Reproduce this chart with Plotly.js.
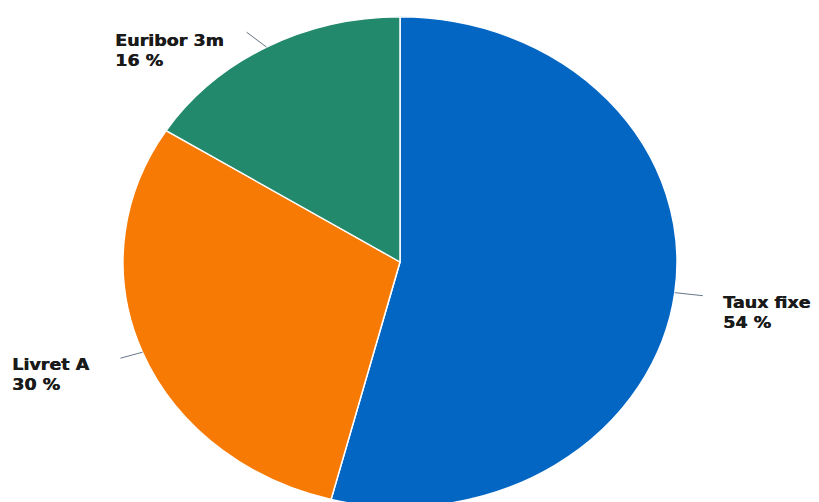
<!DOCTYPE html>
<html><head><meta charset="utf-8">
<script src="https://cdn.plot.ly/plotly-3.0.1.min.js"></script>
<style>
html,body{margin:0;padding:0;background:#fff;overflow:hidden}
#wrap{width:819px;height:502px;overflow:hidden;position:relative;background:#fff}
#chart{width:819px;height:600px;transform:scaleY(0.885);transform-origin:0 0}
</style></head>
<body><div id="wrap"><div id="chart"></div></div>
<script>
// ---- data ----
const labels = ['Taux fixe', 'Livret A', 'Euribor 3m'];
const values = [54, 30, 16];
const percentText = ['54 %', '30 %', '16 %'];
const colors = ['#0366c3', '#f77a05', '#23896c'];

// ---- label placement (pixels, relative to the slice's outer mid-point, image space) ----
const S = 0.885; // vertical squash of the page
const place = [
  {lx: 28,  ly: 3,   tx: 47,  ty: 5,   side: 'left'},
  {lx: -22, ly: 6,   tx: -51, ty: 7,   side: 'right'},
  {lx: -20, ly: -15, tx: -42, ty: -12, side: 'right'}
];

const total = values.reduce((a, b) => a + b, 0);
let cum = 0;
const annotations = [], shapes = [];
values.forEach((v, i) => {
  const mid = (cum + v / 2) / total * 2 * Math.PI;
  cum += v;
  const hx = 0.5 + 0.5 * Math.sin(mid);
  const hy = 0.5 + 0.5 * Math.cos(mid);
  const p = place[i];
  shapes.push({
    type: 'line', xref: 'paper', yref: 'paper',
    xsizemode: 'pixel', ysizemode: 'pixel',
    xanchor: hx, yanchor: hy,
    x0: 0, x1: p.lx, y0: 0, y1: -p.ly / S,
    line: {color: '#5d6e80', width: 1}
  });
  annotations.push({
    xref: 'paper', yref: 'paper', x: hx, y: hy,
    showarrow: false, xanchor: p.side, yanchor: 'top', align: 'left',
    xshift: p.tx, yshift: -(p.ty / S - 5),
    borderpad: 0,
    text: labels[i] + '<br>' + percentText[i],
    font: {family: 'DejaVu Sans', size: 17.5, weight: 'bold', color: '#1a1a1a',
           shadow: '0.5px 0 0 #1a1a1a'}
  });
});

const data = [{
  type: 'pie', labels: labels, values: values,
  marker: {colors: colors, line: {color: '#ffffff', width: 1.5}},
  sort: false, direction: 'clockwise', rotation: 0,
  textinfo: 'none', hoverinfo: 'label+percent', showlegend: false
}];

const layout = {
  width: 819, height: 600,
  margin: {l: 123, r: 142, t: 19, b: 27},
  paper_bgcolor: '#ffffff', plot_bgcolor: '#ffffff',
  showlegend: false,
  annotations: annotations, shapes: shapes
};
Plotly.newPlot('chart', data, layout, {displayModeBar: false, staticPlot: true});
</script></body></html>
